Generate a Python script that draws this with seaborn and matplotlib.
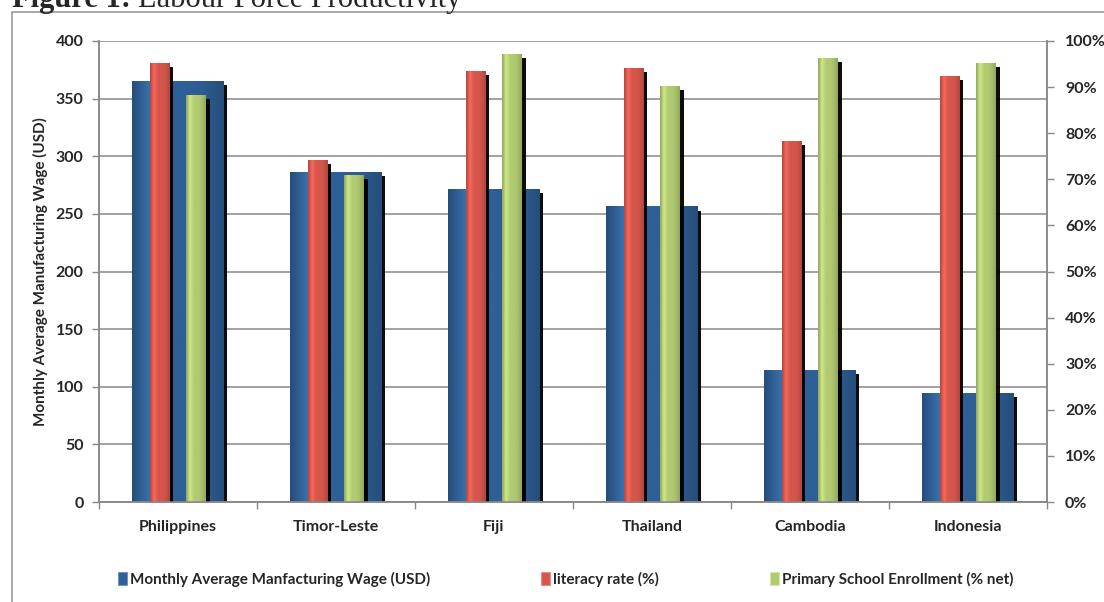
#Importing Libraries
import numpy as np
import pandas as pd
import matplotlib
matplotlib.use("Agg")
import matplotlib.pyplot as plt
import matplotlib.patheffects as pe
from matplotlib.patches import Patch, Rectangle
from matplotlib.colors import LinearSegmentedColormap, to_rgb
from matplotlib.ticker import PercentFormatter, MultipleLocator
import seaborn as sns

#Chart Data
countries = ["Philippines", "Timor-Leste", "Fiji", "Thailand", "Cambodia", "Indonesia"]
wage_usd = [365, 286, 271, 256, 114, 94]
literacy_pct = [95.2, 74.1, 93.4, 94.0, 78.3, 92.3]
enrollment_pct = [88.2, 70.8, 97.1, 90.1, 96.3, 95.2]

wage_name = "Monthly Average Manfacturing Wage (USD)"
literacy_name = "literacy rate (%)"
enroll_name = "Primary School Enrollment (% net)"

blue = "#2e5f96"
red = "#d7564c"
green = "#b2ca72"
grid_grey = "#888888"

#Tables for seaborn
df_wage = pd.DataFrame({"Country": countries, "Wage": wage_usd})
df_pct = pd.DataFrame({
    "Country": countries * 2,
    "Series": [literacy_name] * len(countries) + [enroll_name] * len(countries),
    "Value": literacy_pct + enrollment_pct,
})

#Style
sns.set_theme(style="white")
plt.rcParams['font.family'] = ['Lato', 'DejaVu Sans']
plt.rcParams['font.weight'] = 'bold'

fig = plt.figure(figsize=(11.04, 6.02), dpi=100)
ax = fig.add_axes([99 / 1104, 1 - 502 / 602, (1047 - 99) / 1104, (502 - 41) / 602])
ax2 = ax.twinx()

#Primary axis: wage bars
sns.barplot(data=df_wage, x="Country", y="Wage", color=blue, width=0.58,
            saturation=1, ax=ax, zorder=2)
#Secondary axis: literacy and enrollment
sns.barplot(data=df_pct, x="Country", y="Value", hue="Series",
            palette=[red, green], width=0.46, gap=0.46, saturation=1,
            legend=False, ax=ax2, zorder=2)

#Glossy look: shadow + soft side shading
shadow = [pe.SimplePatchShadow(offset=(2.6, -2.6), shadow_rgbFace="black", alpha=0.95),
          pe.Normal()]
grad = np.linspace(0, 1, 64).reshape(1, -1)
for a in (ax, ax2):
    for p in list(a.patches):
        p.set_path_effects(shadow)
        p.set_linewidth(0)
        base = np.array(to_rgb(p.get_facecolor()))
        light = np.clip(base * 1.12 + 0.03, 0, 1)
        dark = base * 0.82
        cmap = LinearSegmentedColormap.from_list(
            "g", [dark, light, base, base, base * 0.95, dark])
        x0, y0 = p.get_x(), p.get_y()
        a.imshow(grad, extent=[x0, x0 + p.get_width(), y0, y0 + p.get_height()],
                 cmap=cmap, aspect="auto", zorder=2.1, clip_path=p,
                 interpolation="bilinear")

#Axis scales
ax.set_ylim(0, 400)
ax.yaxis.set_major_locator(MultipleLocator(50))
ax2.set_ylim(0, 100)
ax2.yaxis.set_major_locator(MultipleLocator(10))
ax2.yaxis.set_major_formatter(PercentFormatter(decimals=0))
ax.set_xlim(-0.5, len(countries) - 0.5)
ax2.set_xlim(-0.5, len(countries) - 0.5)

ax.yaxis.grid(True, color=grid_grey, linewidth=1.1)
ax.set_axisbelow(True)
ax.set_xlabel("")
ax.set_ylabel("Monthly Average Manufacturing Wage (USD)", fontsize=11,
              fontweight="bold", labelpad=6)
ax2.set_xlabel("")
ax2.set_ylabel("")

for a in (ax, ax2):
    for s in a.spines.values():
        s.set_color(grid_grey)
        s.set_linewidth(1.1)
    a.spines["top"].set_visible(False)

ax.tick_params(axis="y", direction="out", length=5, width=1, color=grid_grey,
               labelsize=11.5, pad=6, left=True)
ax2.tick_params(axis="y", direction="out", length=5, width=1, color=grid_grey,
                labelsize=11.5, pad=8, right=True)
ax.set_xticks(np.arange(len(countries)))
ax.set_xticklabels(countries, fontsize=11.5, fontweight="bold")
ax.set_xticks(np.arange(-0.5, len(countries)), minor=True)
ax.tick_params(axis="x", which="major", length=0, pad=13)
ax.tick_params(axis="x", which="minor", direction="out", length=5, width=1,
               color=grid_grey, bottom=True)
for t in ax.get_yticklabels() + ax2.get_yticklabels():
    t.set_fontweight("bold")

#Legend
handles = [Patch(facecolor=blue, edgecolor="#6f95c2", linewidth=0.8),
           Patch(facecolor=red, edgecolor="#ea8d86", linewidth=0.8),
           Patch(facecolor=green, edgecolor="#d5e6a3", linewidth=0.8)]
fig.legend(handles, [wage_name, literacy_name, enroll_name], ncol=3,
           loc="center left", bbox_to_anchor=(112 / 1104, 1 - 579 / 602),
           frameon=False, handlelength=0.55, handleheight=0.9,
           handletextpad=0.2, columnspacing=7.3, borderaxespad=0,
           prop={"weight": "bold", "size": 11})

#Frame around the chart
fig.patches.append(Rectangle((12 / 1104, -0.1), 1.2, 1.1 - 12 / 602,
                             transform=fig.transFigure, fill=False,
                             edgecolor="#9a9a9a", linewidth=1.2))

#Title (cut off at the top like the source)
t1 = fig.text(12 / 1104, 1 - 7 / 602, "Figure 1:", fontsize=22,
              family="Liberation Serif", fontweight="bold", va="baseline")
fig.canvas.draw()
bb = t1.get_window_extent()
fig.text((bb.x1 + 7) / 1104, 1 - 7 / 602, "Labour Force Productivity",
         fontsize=22, family="Liberation Serif", fontweight="normal",
         va="baseline")

plt.savefig("out.png", dpi=100)
